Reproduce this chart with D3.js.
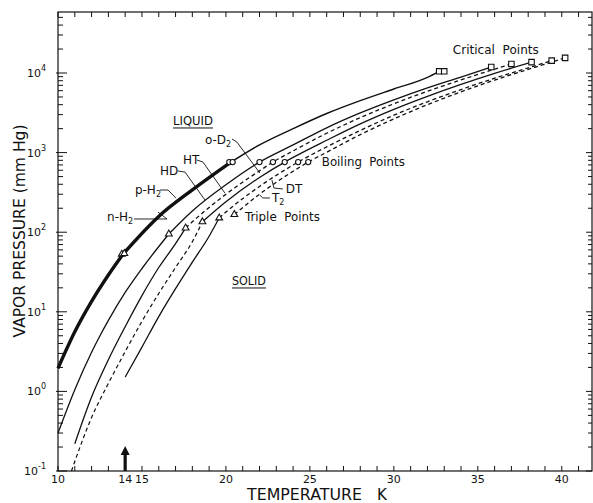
<!DOCTYPE html>
<meta charset="utf-8">
<script src="https://cdn.jsdelivr.net/npm/d3@7"></script>
<style>
body { margin: 0; background: #fff; }
text { font-family: "DejaVu Sans", sans-serif; fill: #111; }
.curve { fill: none; stroke: #111; stroke-width: 1.3px; }
.dashed { stroke-dasharray: 4,3; }
.tick { stroke: #111; stroke-width: 1px; }
.mark { fill: #fff; stroke: #111; stroke-width: 1.1px; }
.leader { fill: none; stroke: #111; stroke-width: 0.9px; }
</style>
<body>
<script>

// ---- data (temperature K, vapour pressure mm Hg) ----
var xTicks = d3.range(10, 42);
var xLabels = [10, 14, 15, 20, 25, 30, 35, 40];
var yDecades = [-1, 0, 1, 2, 3, 4];

var h2Solid   = [[10,1.95],[11,5.6],[12,13.5],[13,29],[13.9,54]];
var h2Liquid  = [[13.9,54],[16,158],[18,340],[20.3,760]];
var h2Upper   = [[20.3,760],[22,1250],[24,2000],[26,3100],[28,4500],[30,6300],[32,8800],[32.7,10500]];

var hdSolid   = [[10,0.30],[11,1.05],[12,3.1],[12.5,5],[13,7.8],[14,17.5],[15,35],[16.6,95]];
var hdLiquid  = [[16.6,95],[18,185],[20,395],[22,760],[24,1250],[26,2050],[28,3150],[30,4600],[32,6500],[34,8900],[35.8,11900]];

var htSolid   = [[11,0.22],[12,0.85],[13,2.5],[14,6.5],[15,16],[16,36],[17,72],[17.6,113]];
var htLiquid  = [[17.6,113],[18,135],[20,300],[22,590],[22.8,760],[24,1050],[26,1750],[28,2750],[30,4100],[32,5900],[34,8200],[37,13000]];

var d2Solid   = [[10.8,0.1],[12,0.47],[13,1.26],[14,3.16],[15,7.6],[16,17],[17,36],[18,76],[18.6,135]];
var d2Liquid  = [[18.6,135],[20,241],[22,487],[23.5,760],[24,870],[26,1430],[28,2300],[30,3500],[32,5100],[34,7200],[36,9900],[38.2,13700]];

var dtSolid   = [[14,1.51],[15,3.6],[16,8.7],[17,19.5],[18,42],[19,89],[19.6,151]];
var dtLiquid  = [[19.6,151],[20,179],[22,376],[24,698],[24.3,760],[26,1180],[28,1900],[30,2950],[32,4350],[34,6200],[36,8600],[38,11600],[39.4,14300]];

var t2Liquid  = [[20.5,167],[22,300],[24,583],[24.9,760],[26,1010],[28,1680],[30,2650],[32,4000],[34,5800],[36,8150],[38,11100],[40.2,15500]];

var boilT   = [20.2, 20.4, 22.0, 22.8, 23.5, 24.3, 24.9];
var boilP   = [760, 760, 760, 760, 760, 760, 760];
var critT   = [32.7, 33.0, 35.8, 37.0, 38.2, 39.4, 40.2];
var critP   = [10500, 10500, 11900, 13000, 13700, 14300, 15500];
var tripleT = [13.8, 13.95, 16.6, 17.6, 18.6, 19.6, 20.5];
var tripleP = [53, 54, 95, 113, 135, 151, 167];

// curve label leaders, [T, log10 P]
var leaders = [
  [[14.52,2.166],[16.49,2.166],[15.95,2.254]],   // n-H2
  [[16.07,2.530],[16.55,2.530],[17.02,2.430]],   // p-H2
  [[17.14,2.769],[17.56,2.756],[18.75,2.405]],   // HD
  [[18.27,2.907],[18.63,2.882],[19.94,2.492]],   // HT
  [[20.36,3.171],[20.65,3.133],[22.02,2.744]],   // o-D2
  [[22.74,2.656],[22.86,2.555],[23.39,2.543]],   // DT
  [[22.02,2.467],[22.20,2.430],[22.62,2.430]]    // T2
];
var labels = [
  {t:12.92, lp:2.141, main:"n-H", sub:"2"},
  {t:14.58, lp:2.480, main:"p-H", sub:"2"},
  {t:16.07, lp:2.719, main:"HD"},
  {t:17.44, lp:2.857, main:"HT"},
  {t:18.75, lp:3.108, main:"o-D", sub:"2"},
  {t:23.57, lp:2.492, main:"DT"},
  {t:22.74, lp:2.379, main:"T", sub:"2"},
  {t:25.71, lp:2.832, main:"Boiling  Points", len:83},
  {t:33.51, lp:4.239, main:"Critical  Points", len:86},
  {t:21.13, lp:2.141, main:"Triple  Points", len:75}
];
var regions = [
  {t:16.85, lp:3.347, name:"LIQUID", len:40},
  {t:20.36, lp:1.337, name:"SOLID", len:34}
];

// ---- layout ----
var width = 593, height = 503;
var svg = d3.select("body").append("svg")
    .attr("width", width)
    .attr("height", height);

var x = d3.scaleLinear().domain([10, 41.8]).range([58, 592]);
var y = d3.scaleLog().domain([0.1, 58400]).range([471, 12]);

function px(d) { return x(d[0]); }
function py(d) { return y(d[1]); }

// frame
svg.append("rect")
    .attr("x", x(10)).attr("y", y(58400))
    .attr("width", x(41.8) - x(10)).attr("height", y(0.1) - y(58400))
    .attr("fill", "none").attr("stroke", "#111").attr("stroke-width", 1.2);

// x ticks, bottom and top, pointing in
svg.append("g").selectAll("line.xb").data(xTicks).enter().append("line")
    .attr("class", "tick")
    .attr("x1", x).attr("x2", x)
    .attr("y1", y(0.1)).attr("y2", y(0.1) - 5);
svg.append("g").selectAll("line.xt").data(xTicks).enter().append("line")
    .attr("class", "tick")
    .attr("x1", x).attr("x2", x)
    .attr("y1", y(58400)).attr("y2", y(58400) + 5);

svg.append("g").selectAll("text").data(xLabels).enter().append("text")
    .attr("x", x).attr("y", 483)
    .attr("text-anchor", "middle")
    .style("font-size", "11px")
    .text(function(d) { return d; });

// y ticks (log), left and right
var yTicks = [];
yDecades.forEach(function(e) {
  for (var m = 1; m <= 9; m++) {
    var v = m * Math.pow(10, e);
    if (v <= 58400) yTicks.push({v: v, major: m == 1});
  }
});
svg.append("g").selectAll("line").data(yTicks).enter().append("line")
    .attr("class", "tick")
    .attr("x1", function(d) { return d.major ? x(10) - 2 : x(10); })
    .attr("x2", function(d) { return d.major ? x(10) + 9 : x(10) + 5; })
    .attr("y1", function(d) { return y(d.v); })
    .attr("y2", function(d) { return y(d.v); });
svg.append("g").selectAll("line").data(yTicks).enter().append("line")
    .attr("class", "tick")
    .attr("x1", x(41.8))
    .attr("x2", function(d) { return d.major ? x(41.8) - 6 : x(41.8) - 4; })
    .attr("y1", function(d) { return y(d.v); })
    .attr("y2", function(d) { return y(d.v); });

var yl = svg.append("g").selectAll("text").data(yDecades).enter().append("text")
    .attr("x", 46).attr("y", function(d) { return y(Math.pow(10, d)) + 4; })
    .attr("text-anchor", "end")
    .style("font-size", "11px");
yl.append("tspan").text("10");
yl.append("tspan").attr("dy", -6).style("font-size", "8px").text(function(d) { return d; });

// axis titles
svg.append("text")
    .attr("transform", "translate(25,231) rotate(-90)")
    .attr("text-anchor", "middle")
    .attr("textLength", 213).attr("lengthAdjust", "spacingAndGlyphs")
    .style("font-size", "16px")
    .text("VAPOR PRESSURE (mm Hg)");
svg.append("text")
    .attr("x", 247).attr("y", 500)
    .attr("textLength", 115).attr("lengthAdjust", "spacingAndGlyphs")
    .style("font-size", "15px")
    .text("TEMPERATURE");
svg.append("text")
    .attr("x", 377).attr("y", 500)
    .style("font-size", "15px")
    .text("K");

// curves
var line = d3.line().x(px).y(py).curve(d3.curveMonotoneX);
var curves = [
  {pts: h2Solid,  w: 3.4},
  {pts: h2Liquid, w: 3.4},
  {pts: h2Upper,  w: 1.4},
  {pts: hdSolid,  w: 1.3},
  {pts: hdLiquid, w: 1.3},
  {pts: htSolid,  w: 1.3},
  {pts: htLiquid, w: 1.3, dash: true},
  {pts: d2Solid,  w: 1.2, dash: true},
  {pts: d2Liquid, w: 1.3},
  {pts: dtSolid,  w: 1.3},
  {pts: dtLiquid, w: 1.3, dash: true},
  {pts: t2Liquid, w: 1.3, dash: true}
];
svg.append("g").selectAll("path").data(curves).enter().append("path")
    .attr("class", function(d) { return d.dash ? "curve dashed" : "curve"; })
    .style("stroke-width", function(d) { return d.w + "px"; })
    .attr("d", function(d) { return line(d.pts); });

// markers
svg.append("g").selectAll("circle").data(boilT).enter().append("circle")
    .attr("class", "mark")
    .attr("cx", function(d) { return x(d); })
    .attr("cy", function(d, i) { return y(boilP[i]); })
    .attr("r", 2.6);

var sq = d3.symbol().type(d3.symbolSquare).size(30);
svg.append("g").selectAll("path").data(critT).enter().append("path")
    .attr("class", "mark")
    .attr("d", sq)
    .attr("transform", function(d, i) { return "translate(" + x(d) + "," + y(critP[i]) + ")"; });

var tri = d3.symbol().type(d3.symbolTriangle).size(20);
svg.append("g").selectAll("path").data(tripleT).enter().append("path")
    .attr("class", "mark")
    .attr("d", tri)
    .attr("transform", function(d, i) { return "translate(" + x(d) + "," + y(tripleP[i]) + ")"; });

// leaders and labels
var lline = d3.line()
    .x(function(d) { return x(d[0]); })
    .y(function(d) { return y(Math.pow(10, d[1])); });
svg.append("g").selectAll("path").data(leaders).enter().append("path")
    .attr("class", "leader")
    .attr("d", lline);

var lab = svg.append("g").selectAll("text").data(labels).enter().append("text")
    .attr("x", function(d) { return x(d.t); })
    .attr("y", function(d) { return y(Math.pow(10, d.lp)); })
    .style("font-size", "12px")
    .style("white-space", "pre");
lab.filter(function(d) { return d.len; })
    .attr("textLength", function(d) { return d.len; })
    .attr("lengthAdjust", "spacingAndGlyphs");
lab.append("tspan").text(function(d) { return d.main; });
lab.filter(function(d) { return d.sub; }).append("tspan")
    .attr("dy", 3).style("font-size", "8px")
    .text(function(d) { return d.sub; });

var reg = svg.append("g").selectAll("g").data(regions).enter().append("g");
reg.append("text")
    .attr("x", function(d) { return x(d.t); })
    .attr("y", function(d) { return y(Math.pow(10, d.lp)); })
    .attr("textLength", function(d) { return d.len; })
    .attr("lengthAdjust", "spacingAndGlyphs")
    .style("font-size", "12px")
    .text(function(d) { return d.name; });
reg.append("line")
    .attr("class", "tick")
    .attr("x1", function(d) { return x(d.t); })
    .attr("x2", function(d) { return x(d.t) + d.len; })
    .attr("y1", function(d) { return y(Math.pow(10, d.lp)) + 3; })
    .attr("y2", function(d) { return y(Math.pow(10, d.lp)) + 3; });

// arrow at 14 K
var ax = x(14), ay = y(0.1);
svg.append("path")
    .attr("d", "M" + ax + "," + (ay - 25) + "L" + (ax - 4.5) + "," + (ay - 16) +
               "L" + (ax - 1.6) + "," + (ay - 16) + "L" + (ax - 1.6) + "," + ay +
               "L" + (ax + 1.6) + "," + ay + "L" + (ax + 1.6) + "," + (ay - 16) +
               "L" + (ax + 4.5) + "," + (ay - 16) + "Z")
    .attr("fill", "#111");

</script>
</body>
